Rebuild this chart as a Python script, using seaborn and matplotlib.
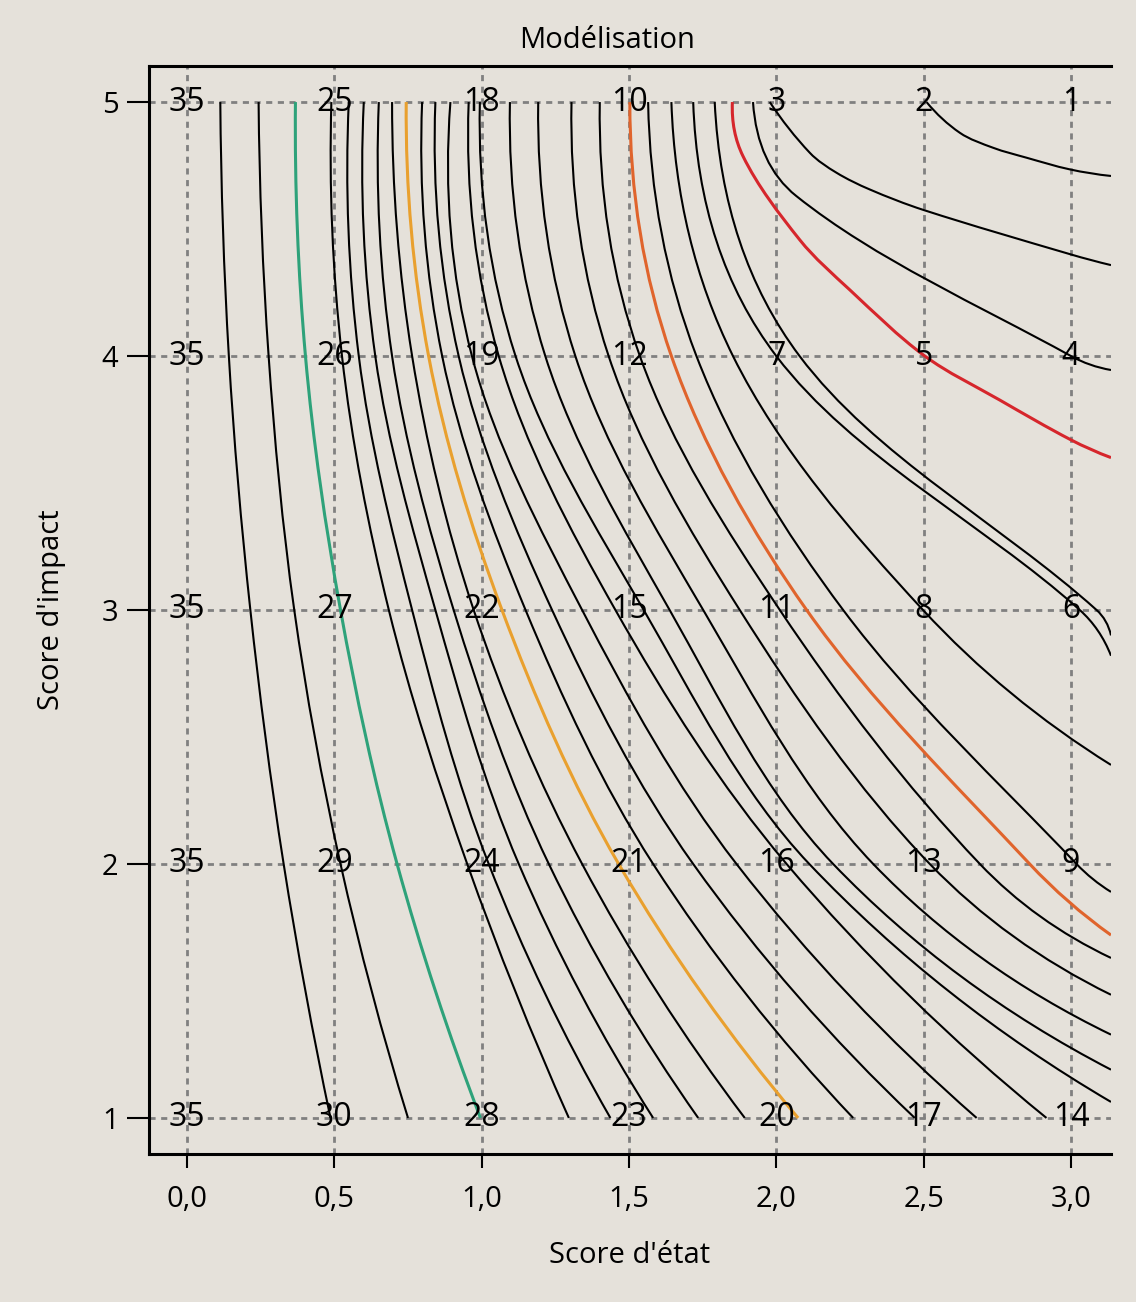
import numpy as np
import matplotlib
matplotlib.use("Agg")
import matplotlib.pyplot as plt
from matplotlib.path import Path
from matplotlib.patches import PathPatch
import seaborn as sns

# --- contour lines.
# Lines are numbered 0..26 from left to right along the top edge (y = 5);
# each list gives where every line crosses that row (nan = it does not cross it).
nan = np.nan
x_at_y5 = [0.113, 0.243, 0.368, 0.490, 0.549, 0.600, 0.651, 0.696, 0.744, 0.798, 0.843, 0.894, 0.956,
           0.994, 1.096, 1.192, 1.305, 1.401, 1.503, 1.565, 1.644, 1.718, 1.791, 1.851, 1.921, 1.978, 2.510]
x_at_y4 = [0.142, 0.277, 0.402, 0.526, 0.583, 0.639, 0.696, 0.764, 0.820, 0.866, 0.922, 0.967, 1.058,
           1.115, 1.216, 1.318, 1.431, 1.537, 1.644, 1.729, 1.853, 2.000, 2.079, 2.504, 3.000, nan, nan]
x_at_y3 = [0.215, 0.364, 0.521, 0.685, 0.764, 0.843, 0.905, 0.973, 1.069, 1.149, 1.239, 1.341, 1.454,
           1.550, 1.638, 1.752, 1.876, 2.012, 2.103, 2.227, 2.498, 3.030, 3.087, nan, nan, nan, nan]
x_at_y2 = [0.328, 0.521, 0.713, 0.951, 1.024, 1.126, 1.228, 1.341, 1.465, 1.582, 1.718, 1.865, 2.035,
           2.112, 2.193, 2.329, 2.521, 2.691, 2.860, 3.019, nan, nan, nan, nan, nan, nan, nan]
x_at_y1 = [0.487, 0.750, 0.996, 1.296, 1.437, 1.582, 1.735, 1.893, 2.074, 2.261, 2.470, 2.680, 2.917,
           nan, nan, nan, nan, nan, nan, nan, nan, nan, nan, nan, nan, nan, nan]
# height where a line leaves through the right border
y_at_right = [nan] * 13 + [1.063, 1.190, 1.328, 1.485, 1.630, 1.720, 1.890, 2.390, 2.820, 2.900,
                           3.600, 3.945, 4.358, 4.709]
x_right = 3.136
rows = [(5, x_at_y5), (4, x_at_y4), (3, x_at_y3), (2, x_at_y2), (1, x_at_y1)]

# extra traced points for the strongly bent lines in the top-right corner
extra_x = {
    23: [1.887, 2.080, 2.250, 2.758, 3.000],
    24: [2.068],
    25: [2.114, 2.204, 2.317, 2.500, 3.000],
    26: [2.623, 2.736, 2.849, 2.996],
}
extra_y = {
    23: [4.787, 4.457, 4.260, 3.827, 3.670],
    24: [4.630],
    25: [4.800, 4.722, 4.656, 4.575, 4.400],
    26: [4.879, 4.820, 4.781, 4.735],
}

# coloured lines (index -> colour)
line_colors = {2: "#2ea27a", 8: "#e9a02e", 18: "#e0642c", 23: "#d6262c"}

# rank labels at the grid points
x_ticks = [0.0, 0.5, 1.0, 1.5, 2.0, 2.5, 3.0]
x_ticklabels = ["0,0", "0,5", "1,0", "1,5", "2,0", "2,5", "3,0"]
y_ticks = [1, 2, 3, 4, 5]
rank_rows = {
    5: [35, 25, 18, 10, 3, 2, 1],
    4: [35, 26, 19, 12, 7, 5, 4],
    3: [35, 27, 22, 15, 11, 8, 6],
    2: [35, 29, 24, 21, 16, 13, 9],
    1: [35, 30, 28, 23, 20, 17, 14],
}


def line_points(i):
    pts = [(xs[i], y) for y, xs in rows if not np.isnan(xs[i])]
    if not np.isnan(y_at_right[i]):
        pts.append((x_right, y_at_right[i]))
    pts += list(zip(extra_x.get(i, []), extra_y.get(i, [])))
    pts.sort(key=lambda p: -p[1])
    return np.array(pts)


def smooth_path(P):
    # cubic Bezier path through the traced points (chord-length Hermite tangents)
    S = P * np.array([294.6, 254.0])
    t = np.concatenate([[0.0], np.cumsum(np.linalg.norm(np.diff(S, axis=0), axis=1))])
    n = len(P)
    m = np.zeros_like(P)
    if n == 2:
        m[:] = (P[1] - P[0]) / (t[1] - t[0])
    else:
        m[1:-1] = (P[2:] - P[:-2]) / (t[2:] - t[:-2])[:, None]
        m[0] = 2 * (P[1] - P[0]) / (t[1] - t[0]) - m[1]
        m[-1] = 2 * (P[-1] - P[-2]) / (t[-1] - t[-2]) - m[-2]
    verts = [P[0]]
    codes = [Path.MOVETO]
    for k in range(n - 1):
        h = t[k + 1] - t[k]
        verts += [P[k] + m[k] * h / 3, P[k + 1] - m[k + 1] * h / 3, P[k + 1]]
        codes += [Path.CURVE4] * 3
    return Path(np.array(verts), codes)


# --- plot
bg = "#e5e1da"
sns.set_theme(style="ticks", rc={
    "axes.facecolor": bg, "figure.facecolor": bg, "text.color": "black",
    "axes.labelcolor": "black", "xtick.color": "black", "ytick.color": "black",
})
plt.rcParams["font.family"] = ["Open Sans", "DejaVu Sans"]

fig = plt.figure(figsize=(11.36, 13.02), dpi=100)
ax = fig.add_axes([149 / 1136, 1 - 1154 / 1302, (1111 - 149) / 1136, (1154 - 66) / 1302])

for i in range(len(x_at_y5)):
    col = line_colors.get(i, "black")
    lw = 2.2 if i in line_colors else 1.5
    ax.add_patch(PathPatch(smooth_path(line_points(i)), fill=False, edgecolor=col,
                           lw=lw, zorder=3 if i in line_colors else 2.5))

for xv in x_ticks:
    ax.axvline(xv, color="#808080", lw=2, ls=(0, (2.2, 2)), zorder=2)
for yv in y_ticks:
    ax.axhline(yv, color="#808080", lw=2, ls=(0, (2.2, 2)), zorder=2)

for yv, ranks in rank_rows.items():
    for xv, r in zip(x_ticks, ranks):
        ax.text(xv, yv, str(r), ha="center", va="center", fontsize=23, color="black", zorder=4)

ax.set_xlim(-0.129, x_right)
ax.set_ylim(0.858, 5.142)
ax.set_xticks(x_ticks)
ax.set_xticklabels(x_ticklabels)
ax.set_yticks(y_ticks)
ax.tick_params(axis="x", direction="out", length=10, width=1.5, labelsize=21, pad=12)
ax.tick_params(axis="y", direction="out", length=16, width=1.5, labelsize=21, pad=6)
for s in ["top", "left", "bottom"]:
    ax.spines[s].set_linewidth(2.2)
    ax.spines[s].set_color("black")
ax.spines["right"].set_visible(False)

ax.set_xlabel("Score d'état", fontsize=21, labelpad=20)
ax.set_ylabel("Score d'impact", fontsize=21, labelpad=26)
fig.text(607 / 1136, 1 - 40 / 1302, "Modélisation", ha="center", va="center", fontsize=21)

fig.savefig("out.png", dpi=100, facecolor=bg)
